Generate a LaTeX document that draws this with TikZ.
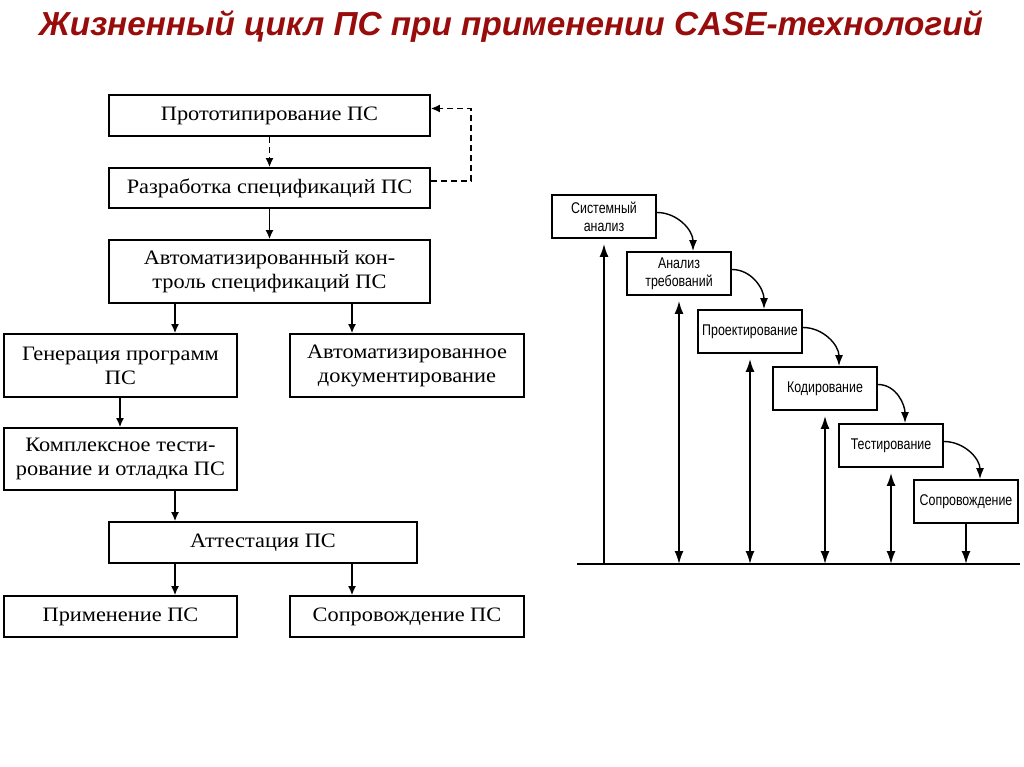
\documentclass[tikz,border=0pt]{standalone}
\usepackage{fontspec}
\setmainfont[FakeStretch=1.09]{Liberation Serif}
\newfontfamily\zagfont{Liberation Sans}
\newfontfamily\uzkfont[FakeStretch=0.8]{Liberation Sans}
\usetikzlibrary{arrows.meta}
\definecolor{zagred}{RGB}{152,12,12}

\tikzset{
  blok/.style={draw, line width=1.8pt, inner sep=0pt, align=center,
    font=\fontsize{20.5}{24}\selectfont},
  etap/.style={draw, line width=1.8pt, inner sep=0pt, align=center,
    minimum width=104pt, minimum height=43pt,
    font=\uzkfont\fontsize{15.5}{18}\selectfont},
  strl/.style={line width=1.3pt, -{Latex[length=9pt,width=8pt]}},
  pstrl/.style={strl, dash pattern=on 6pt off 4pt},
  vstrl/.style={line width=1.8pt, -{Latex[length=13pt,width=9pt]}},
  dvstrl/.style={line width=1.8pt, {Latex[length=13pt,width=9pt]}-{Latex[length=13pt,width=9pt]}},
  dstrl/.style={line width=1.4pt, -{Latex[length=11pt,width=8pt]}}
}

\begin{document}
\begin{tikzpicture}[x=1pt,y=-1pt]
\useasboundingbox (0,0) rectangle (1024,767);

\node[font=\zagfont\bfseries\itshape\fontsize{33.3}{40}\selectfont, text=zagred] (zag) at (511,26) {Жизненный цикл ПС при применении CASE-технологий};

\coordinate (l1) at (175,0);
\coordinate (l2) at (352,0);
\coordinate (l3) at (120,0);

\node[blok, minimum width=321pt, minimum height=41pt] (proto) at (269.5,115.5) {Прототипирование ПС};
\node[blok, minimum width=321pt, minimum height=40pt] (razr) at (269.5,188) {Разработка спецификаций ПС};
\node[blok, minimum width=321pt, minimum height=63pt] (kontr) at (269.5,271.5) {Автоматизированный кон-\\троль спецификаций ПС};
\node[blok, minimum width=233pt, minimum height=63pt] (gen) at (120.5,365.5) {Генерация программ\\ПС};
\node[blok, minimum width=234pt, minimum height=63pt] (dok) at (407,365.5) {Автоматизированное\\документирование};
\node[blok, minimum width=233pt, minimum height=62pt] (kompl) at (120.5,459) {Комплексное тести-\\рование и отладка ПС};
\node[blok, minimum width=308pt, minimum height=41pt] (att) at (263,542.5) {Аттестация ПС};
\node[blok, minimum width=233pt, minimum height=41pt] (prim) at (120.5,616.5) {Применение ПС};
\node[blok, minimum width=234pt, minimum height=41pt] (sopr) at (407,616.5) {Сопровождение ПС};

\draw[pstrl] (proto) -- (razr);
\draw[pstrl] ([yshift=7pt]razr.east) -- ++(40,0) |- ([yshift=7pt]proto.east);
\draw[strl] (razr) -- (kontr);
\draw[strl] (kontr.south -| l1) -- (gen.north -| l1);
\draw[strl] (kontr.south -| l2) -- (dok.north -| l2);
\draw[strl] (gen.south -| l3) -- (kompl.north -| l3);
\draw[strl] (kompl.south -| l1) -- (att.north -| l1);
\draw[strl] (att.south -| l1) -- (prim.north -| l1);
\draw[strl] (att.south -| l2) -- (sopr.north -| l2);

\node[etap] (sa) at (604,216.5) {Системный\\анализ};
\node[etap] (at) at (679,273.5) {Анализ\\требований};
\node[etap] (pr) at (750,331.5) {Проектирование};
\node[etap] (kod) at (825,388.5) {Кодирование};
\node[etap] (tst) at (891,445.5) {Тестирование};
\node[etap] (spr) at (966,501.5) {Сопровождение};

\coordinate (osl) at (577,564);
\coordinate (osr) at (1020,564);
\draw[line width=2.6pt] (osl) -- (osr);

\draw[vstrl] (sa.south |- osl) -- ([yshift=-5pt]sa.south);
\foreach \n in {at,pr,kod,tst}
  \draw[dvstrl] (\n.south |- osl) -- ([yshift=-5pt]\n.south);
\draw[vstrl] (spr.south) -- (spr.south |- osl);

\foreach \a/\b in {sa/at,at/pr,pr/kod,kod/tst,tst/spr}
  \draw[dstrl] ([yshift=4pt]\a.east) to[out=0,in=90] ([xshift=14pt]\b.north);
\end{tikzpicture}
\end{document}
